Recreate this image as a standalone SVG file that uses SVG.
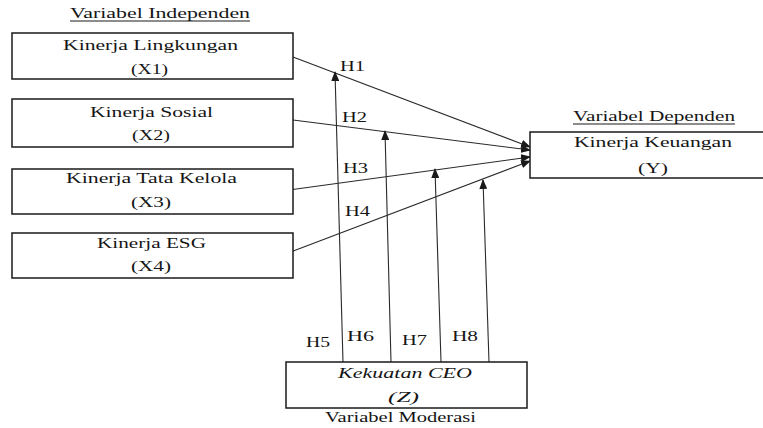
<svg xmlns="http://www.w3.org/2000/svg" width="763" height="428" viewBox="0 0 763 428">
<style>
text{font-family:"Liberation Serif","Times New Roman",serif;font-size:14px;fill:#151515}
.s{transform:scale(1.5,1)}
.it{font-style:italic}
.box{fill:#fff;stroke:#1a1a1a;stroke-width:1.5}
.ln{stroke:#2a2a2a;stroke-width:1.1;fill:none}
.ul{stroke:#1a1a1a;stroke-width:1}
</style>
<defs>
<marker id="ah" markerUnits="userSpaceOnUse" markerWidth="10" markerHeight="8" refX="9" refY="4" orient="auto">
<path d="M0,0 L10,4 L0,8 Z" fill="#1a1a1a"/>
</marker>
</defs>
<rect width="763" height="428" fill="#fff"/>
<g id="connectors">
<line class="ln" x1="293" y1="57" x2="530" y2="147" marker-end="url(#ah)"/>
<line class="ln" x1="293" y1="120" x2="530" y2="150" marker-end="url(#ah)"/>
<line class="ln" x1="289" y1="190" x2="530" y2="157" marker-end="url(#ah)"/>
<line class="ln" x1="288" y1="253" x2="530" y2="161" marker-end="url(#ah)"/>
<line class="ln" x1="343" y1="362" x2="335" y2="72" marker-end="url(#ah)"/>
<line class="ln" x1="391" y1="362" x2="385" y2="131" marker-end="url(#ah)"/>
<line class="ln" x1="441" y1="362" x2="435" y2="169" marker-end="url(#ah)"/>
<line class="ln" x1="489" y1="362" x2="483" y2="180" marker-end="url(#ah)"/>
<text class="s" x="226.67" y="71" textLength="16.67" lengthAdjust="spacingAndGlyphs">H1</text>
<text class="s" x="228" y="122" textLength="16.67" lengthAdjust="spacingAndGlyphs">H2</text>
<text class="s" x="228.67" y="173" textLength="16.67" lengthAdjust="spacingAndGlyphs">H3</text>
<text class="s" x="230" y="216" textLength="16.67" lengthAdjust="spacingAndGlyphs">H4</text>
<text class="s" x="204" y="347" textLength="16" lengthAdjust="spacingAndGlyphs">H5</text>
<text class="s" x="231.33" y="341" textLength="18" lengthAdjust="spacingAndGlyphs">H6</text>
<text class="s" x="268" y="345" textLength="16.67" lengthAdjust="spacingAndGlyphs">H7</text>
<text class="s" x="301.33" y="341" textLength="17.33" lengthAdjust="spacingAndGlyphs">H8</text>
</g>
<g id="label-independen">
<text class="s" x="46.67" y="18" textLength="120" lengthAdjust="spacingAndGlyphs">Variabel Independen</text>
<line class="ul" x1="70" y1="21" x2="250" y2="21"/>
</g>
<g id="node-x1">
<rect class="box" x="12" y="33" width="281" height="46"/>
<text class="s" x="42" y="50" textLength="116.67" lengthAdjust="spacingAndGlyphs">Kinerja Lingkungan</text>
<text class="s" x="87.33" y="74" textLength="24.67" lengthAdjust="spacingAndGlyphs">(X1)</text>
</g>
<g id="node-x2">
<rect class="box" x="12" y="99" width="281" height="48"/>
<text class="s" x="60" y="117" textLength="82" lengthAdjust="spacingAndGlyphs">Kinerja Sosial</text>
<text class="s" x="88" y="140" textLength="25.33" lengthAdjust="spacingAndGlyphs">(X2)</text>
</g>
<g id="node-x3">
<rect class="box" x="12" y="169" width="281" height="45"/>
<text class="s" x="44" y="183" textLength="114" lengthAdjust="spacingAndGlyphs">Kinerja Tata Kelola</text>
<text class="s" x="87.33" y="207" textLength="26.67" lengthAdjust="spacingAndGlyphs">(X3)</text>
</g>
<g id="node-x4">
<rect class="box" x="12" y="233" width="281" height="45"/>
<text class="s" x="64.67" y="248" textLength="72.67" lengthAdjust="spacingAndGlyphs">Kinerja ESG</text>
<text class="s" x="87.33" y="271" textLength="26.67" lengthAdjust="spacingAndGlyphs">(X4)</text>
</g>
<g id="node-y">
<text class="s" x="382" y="121" textLength="108" lengthAdjust="spacingAndGlyphs">Variabel Dependen</text>
<line class="ul" x1="573" y1="124" x2="735" y2="124"/>
<rect class="box" x="530" y="132" width="240" height="46"/>
<text class="s" x="382.67" y="147" textLength="105.33" lengthAdjust="spacingAndGlyphs">Kinerja Keuangan</text>
<text class="s" x="425.33" y="173" textLength="20" lengthAdjust="spacingAndGlyphs">(Y)</text>
</g>
<g id="node-z">
<rect class="box" x="286" y="362" width="241" height="46"/>
<text class="s it" x="225.33" y="378" textLength="89.33" lengthAdjust="spacingAndGlyphs">Kekuatan CEO</text>
<text class="s it" x="258.67" y="402" textLength="20.67" lengthAdjust="spacingAndGlyphs">(Z)</text>
<text class="s" x="216.67" y="422" textLength="100.67" lengthAdjust="spacingAndGlyphs">Variabel Moderasi</text>
</g>
</svg>
